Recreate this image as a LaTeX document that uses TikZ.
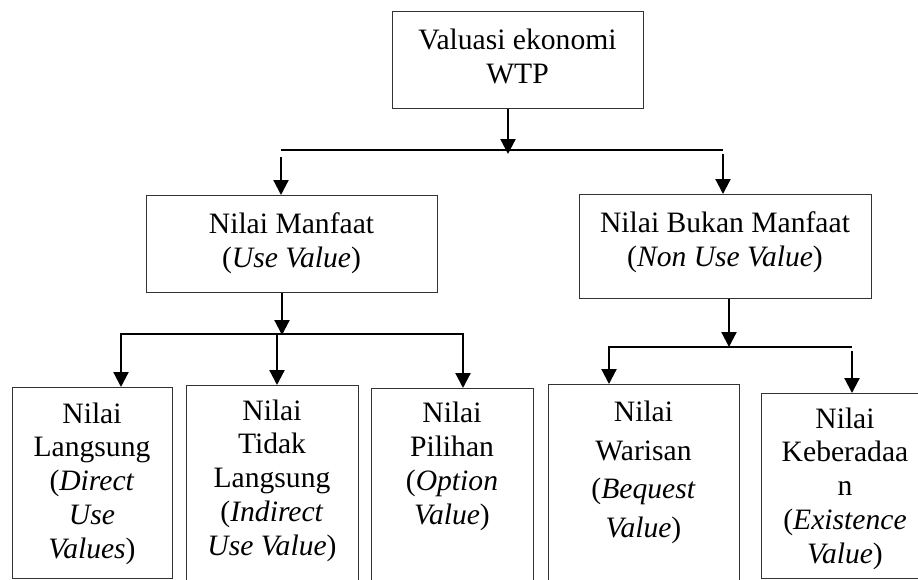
\documentclass[tikz,border=0pt]{standalone}
\usepackage{fontspec}
\setmainfont{Liberation Serif}
\usetikzlibrary{arrows.meta}
\begin{document}
\begin{tikzpicture}[x=1pt,y=-1pt,
  box/.style={draw=black!80, line width=1pt, inner sep=0pt, anchor=north west},
  txt/.style={font=\fontsize{29.6}{33.7}\selectfont, align=center, anchor=base, inner sep=0pt},
  txtw/.style={font=\fontsize{29.6}{38.5}\selectfont, align=center, anchor=base, inner sep=0pt},
  conn/.style={line width=2.2pt, draw=black},
  arr/.style={conn, -{Triangle[length=15pt,width=15pt]}}]
\useasboundingbox (0,0) rectangle (918,579);
\clip (0,0) rectangle (918,579);
% boxes
\node[box, minimum width=251pt, minimum height=97pt] (top) at (392,11) {};
\node[box, minimum width=291pt, minimum height=97pt] (manf) at (146,195) {};
\node[box, minimum width=292pt, minimum height=104pt] (bukan) at (579,194) {};
\node[box, minimum width=160pt, minimum height=191pt] (b1) at (12,387) {};
\node[box, minimum width=172pt, minimum height=215pt] (b2) at (186,385) {};
\node[box, minimum width=162pt, minimum height=212pt] (b3) at (371,388) {};
\node[box, minimum width=191pt, minimum height=216pt] (b4) at (548,384) {};
\node[box, minimum width=169pt, minimum height=185pt] (b5) at (761,393) {};
% texts (anchored at the baseline of the last line)
\node[txt] (ttop) at (517.5,83) {Valuasi ekonomi\\WTP};
\node[txt] (tmanf) at (291.5,267) {Nilai Manfaat\\(\textit{Use Value})};
\node[txt] (tbukan) at (725,266) {Nilai Bukan Manfaat\\(\textit{Non Use Value})};
\node[txt] (t1) at (92,558) {Nilai\\Langsung\\(\textit{Direct}\\\textit{Use}\\\textit{Values})};
\node[txt] (t2) at (272,555) {Nilai\\Tidak\\Langsung\\(\textit{Indirect}\\\textit{Use Value})};
\node[txt] (t3) at (452,524) {Nilai\\Pilihan\\(\textit{Option}\\\textit{Value})};
\node[txtw] (t4) at (643.5,537) {Nilai\\Warisan\\(\textit{Bequest}\\\textit{Value})};
\node[txt] (t5) at (845,563) {Nilai\\Keberadaa\\n\\(\textit{Existence}\\\textit{Value})};
% level 1 connectors
\coordinate (a0) at (508,154);
\coordinate (h1l) at (281,150);
\coordinate (h1r) at (723,150);
\coordinate (a1) at (281,157);
\coordinate (a2) at (723,154);
\draw[arr] (top.south -| a0) -- (a0);
\draw[conn] (h1l) -- (h1r);
\draw[arr] (a1) -- (a1 |- manf.north);
\draw[arr] (a2) -- (a2 |- bukan.north);
% level 2 left
\coordinate (b0) at (282,335);
\coordinate (h2l) at (121,334);
\coordinate (h2m) at (277,334);
\coordinate (h2r) at (463,334);
\draw[arr] (manf.south -| b0) -- (b0);
\draw[arr] (h2m) -- (h2l) -- (h2l |- b1.north);
\draw[arr] (h2m) -- (h2m |- b2.north);
\draw[arr] (h2m) -- (h2r) -- (h2r |- b3.north);
% level 2 right
\coordinate (c0) at (729,347);
\coordinate (h3l) at (609,347);
\coordinate (h3r) at (852,347);
\coordinate (c2) at (852,351);
\draw[arr] (bukan.south -| c0) -- (c0);
\draw[arr] (h3r) -- (h3l) -- (h3l |- b4.north);
\draw[arr] (c2) -- (c2 |- b5.north);
\end{tikzpicture}
\end{document}
